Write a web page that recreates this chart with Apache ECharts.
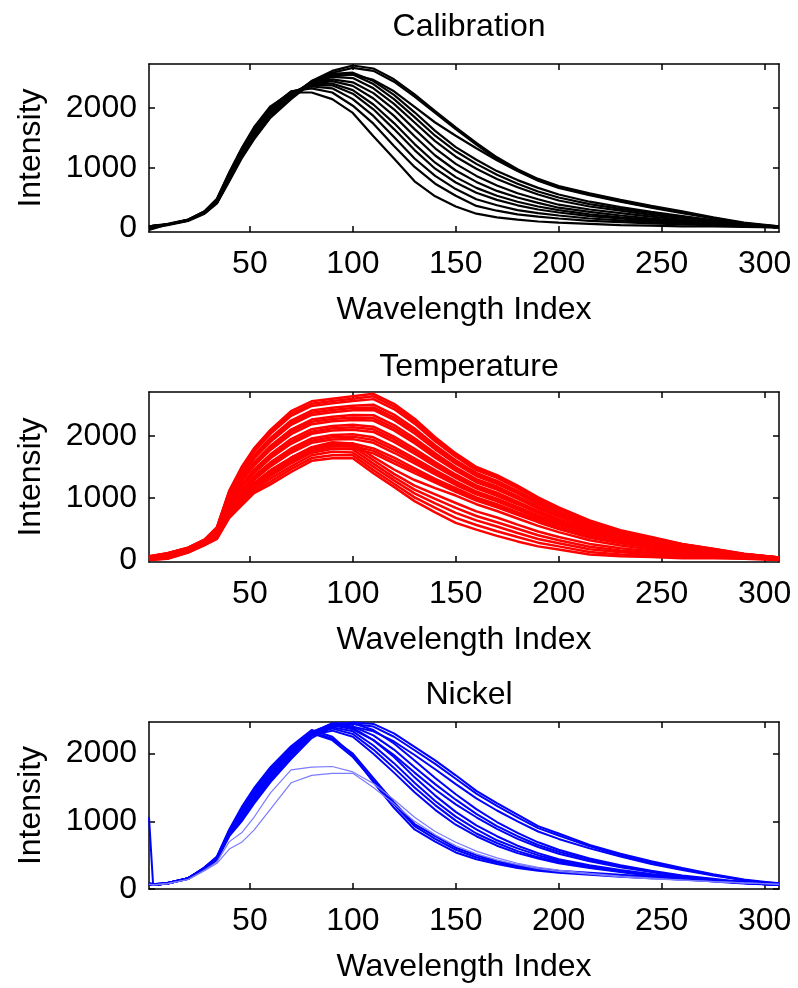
<!DOCTYPE html>
<html><head><meta charset="utf-8">
<script src="https://cdn.jsdelivr.net/npm/echarts@6.0.0/dist/echarts.min.js"></script>
<style>html,body{margin:0;padding:0;background:#fff}#chart{width:798px;height:988px}</style>
</head><body><div id="chart"></div>
<script>
// ---------- tick labels ----------
const xTickValues = [50, 100, 150, 200, 250, 300];
const yTickValues = [0, 1000, 2000];

// ---------- Calibration ----------
const xCal = [1, 10, 20, 28, 34, 40, 46, 52, 60, 70, 80, 90, 100, 110, 120, 130, 140, 150, 160, 170, 180, 190, 200, 215, 230, 245, 260, 275, 290, 307];
const calT1 = [30, 60, 130, 250, 420, 800, 1180, 1500, 1850, 2170, 2450, 2620, 2710, 2660, 2480, 2230, 1950, 1680, 1420, 1180, 980, 820, 700, 580, 470, 370, 280, 180, 90, 30];
const calT2 = [0, 50, 120, 240, 410, 780, 1160, 1480, 1840, 2150, 2420, 2590, 2670, 2620, 2440, 2190, 1920, 1650, 1390, 1150, 960, 800, 680, 560, 450, 350, 260, 170, 80, 20];
const calT3 = [30, 60, 130, 250, 430, 820, 1200, 1520, 1870, 2180, 2400, 2530, 2560, 2470, 2280, 2020, 1760, 1540, 1330, 1130, 950, 790, 670, 550, 440, 340, 250, 160, 80, 20];
const calM1 = [20, 60, 130, 260, 440, 850, 1230, 1550, 1900, 2200, 2450, 2570, 2590, 2450, 2220, 1930, 1620, 1350, 1140, 950, 800, 670, 560, 440, 350, 270, 200, 130, 70, 20];
const calM2 = [-30, 60, 140, 260, 450, 860, 1240, 1560, 1900, 2200, 2440, 2550, 2560, 2400, 2150, 1850, 1540, 1280, 1070, 890, 740, 610, 510, 400, 320, 250, 190, 130, 70, 30];
const calM3 = [20, 60, 130, 250, 440, 860, 1250, 1570, 1920, 2220, 2430, 2520, 2500, 2330, 2070, 1760, 1450, 1190, 990, 820, 680, 560, 460, 360, 290, 220, 170, 120, 60, 20];
const calM4 = [30, 60, 130, 260, 450, 870, 1260, 1580, 1930, 2230, 2420, 2480, 2430, 2250, 1980, 1650, 1330, 1070, 870, 710, 580, 480, 390, 310, 250, 190, 140, 100, 60, 20];
const calM5 = [20, 60, 140, 270, 460, 880, 1270, 1600, 1950, 2240, 2400, 2450, 2370, 2160, 1870, 1530, 1210, 960, 770, 620, 510, 420, 340, 270, 210, 160, 120, 90, 50, 20];
const calM6 = [30, 60, 130, 260, 460, 890, 1280, 1610, 1960, 2250, 2390, 2410, 2300, 2060, 1750, 1400, 1090, 850, 670, 540, 440, 360, 300, 230, 180, 140, 110, 80, 50, 20];
const calL1 = [30, 70, 140, 270, 470, 900, 1290, 1620, 1970, 2260, 2380, 2380, 2240, 1980, 1650, 1300, 990, 760, 590, 470, 380, 310, 260, 200, 160, 120, 100, 70, 40, 20];
const calL2 = [20, 60, 140, 270, 470, 910, 1300, 1640, 1990, 2270, 2360, 2330, 2150, 1870, 1520, 1160, 870, 650, 480, 380, 300, 250, 210, 160, 130, 100, 80, 60, 40, 10];
const calL3 = [30, 60, 140, 280, 480, 920, 1320, 1660, 2010, 2280, 2330, 2260, 2040, 1740, 1370, 1020, 740, 540, 370, 290, 230, 190, 160, 120, 100, 80, 60, 50, 30, 10];
const calL4 = [20, 60, 140, 280, 490, 930, 1330, 1680, 2030, 2260, 2260, 2150, 1920, 1530, 1160, 780, 530, 360, 240, 180, 140, 110, 90, 70, 50, 40, 30, 30, 20, 10];

// ---------- Temperature ----------
const xTemp = [1, 10, 20, 28, 34, 40, 46, 52, 60, 70, 80, 90, 100, 110, 120, 130, 140, 150, 160, 170, 180, 190, 200, 215, 230, 245, 260, 275, 290, 307];
const tempU1 = [60, 110, 200, 330, 530, 1120, 1500, 1800, 2100, 2400, 2560, 2600, 2640, 2680, 2520, 2280, 1980, 1720, 1500, 1370, 1200, 1010, 850, 640, 480, 370, 260, 180, 100, 40];
const tempU1b = [58, 108, 198, 328, 520, 1105, 1480, 1770, 2070, 2360, 2520, 2565, 2600, 2640, 2480, 2240, 1950, 1690, 1475, 1350, 1180, 990, 835, 630, 470, 360, 255, 178, 98, 40];
const tempU2 = [55, 105, 195, 325, 515, 1090, 1455, 1745, 2035, 2325, 2485, 2530, 2565, 2595, 2435, 2200, 1915, 1665, 1450, 1325, 1160, 975, 820, 615, 460, 355, 250, 175, 95, 40];
const tempU3 = [50, 95, 190, 315, 505, 1055, 1405, 1690, 1970, 2250, 2410, 2455, 2490, 2505, 2345, 2120, 1850, 1610, 1405, 1275, 1115, 940, 785, 590, 440, 340, 240, 165, 95, 40];
const tempU3b = [48, 92, 188, 312, 498, 1040, 1380, 1660, 1940, 2215, 2375, 2420, 2450, 2460, 2300, 2080, 1820, 1580, 1380, 1250, 1095, 920, 770, 580, 430, 330, 235, 162, 92, 38];
const tempU4 = [45, 90, 185, 310, 490, 1020, 1360, 1635, 1905, 2180, 2340, 2385, 2415, 2420, 2260, 2040, 1785, 1555, 1355, 1230, 1075, 900, 755, 565, 425, 325, 230, 160, 90, 35];
const tempU5 = [40, 85, 180, 305, 475, 990, 1315, 1575, 1840, 2105, 2265, 2310, 2340, 2335, 2175, 1965, 1720, 1495, 1305, 1185, 1030, 865, 725, 540, 405, 310, 215, 155, 90, 35];
const tempU5b = [40, 82, 178, 302, 470, 975, 1290, 1550, 1810, 2070, 2230, 2275, 2300, 2290, 2130, 1925, 1685, 1470, 1280, 1160, 1010, 848, 710, 528, 395, 302, 210, 152, 88, 35];
const tempU6 = [40, 80, 175, 300, 465, 960, 1265, 1520, 1775, 2030, 2190, 2240, 2260, 2250, 2090, 1885, 1650, 1440, 1255, 1135, 990, 830, 695, 515, 385, 295, 205, 150, 85, 35];
const tempU7 = [35, 70, 165, 290, 450, 920, 1215, 1460, 1705, 1950, 2110, 2160, 2180, 2150, 1990, 1795, 1580, 1380, 1205, 1085, 940, 790, 660, 485, 365, 275, 195, 140, 85, 35];
const tempU7b = [32, 68, 162, 288, 442, 905, 1190, 1430, 1670, 1910, 2070, 2125, 2140, 2108, 1948, 1755, 1548, 1352, 1180, 1060, 920, 772, 642, 472, 355, 268, 190, 138, 82, 35];
const tempU8 = [30, 65, 160, 285, 435, 890, 1170, 1400, 1640, 1875, 2035, 2090, 2100, 2065, 1905, 1715, 1515, 1325, 1155, 1035, 900, 755, 625, 460, 345, 260, 185, 135, 80, 35];
const tempU9 = [25, 60, 155, 280, 420, 860, 1120, 1350, 1575, 1800, 1960, 2015, 2030, 1980, 1820, 1640, 1450, 1270, 1105, 990, 855, 720, 595, 435, 325, 245, 170, 130, 80, 35];
const tempU9b = [22, 58, 152, 278, 412, 842, 1098, 1320, 1542, 1765, 1925, 1980, 1990, 1935, 1775, 1600, 1415, 1240, 1082, 968, 835, 700, 580, 422, 318, 238, 165, 128, 78, 32];
const tempU10 = [20, 55, 150, 275, 405, 825, 1075, 1290, 1510, 1730, 1890, 1945, 1950, 1890, 1730, 1560, 1380, 1210, 1060, 945, 815, 680, 565, 410, 310, 230, 160, 125, 75, 30];
const tempU11 = [20, 45, 145, 265, 395, 790, 1030, 1240, 1450, 1650, 1810, 1870, 1880, 1800, 1650, 1480, 1310, 1160, 1010, 900, 770, 650, 530, 390, 290, 210, 150, 120, 70, 30];
const tempU11b = [15, 42, 142, 262, 388, 775, 1005, 1210, 1415, 1615, 1775, 1835, 1840, 1760, 1605, 1440, 1280, 1130, 985, 875, 750, 630, 515, 375, 280, 205, 145, 115, 70, 30];
const tempU12 = [10, 40, 140, 260, 380, 760, 980, 1180, 1380, 1580, 1740, 1800, 1800, 1720, 1560, 1400, 1250, 1100, 960, 850, 730, 610, 500, 360, 270, 200, 140, 110, 70, 30];
const tempW1 = [20, 50, 140, 270, 400, 800, 1040, 1240, 1440, 1650, 1820, 1900, 1880, 1660, 1460, 1290, 1160, 1040, 900, 790, 670, 550, 450, 320, 235, 170, 115, 95, 60, 20];
const tempW2 = [15, 45, 135, 265, 390, 775, 1010, 1210, 1395, 1605, 1775, 1850, 1830, 1610, 1390, 1200, 1060, 920, 785, 685, 570, 460, 370, 260, 190, 140, 95, 80, 50, 15];
const tempW3 = [10, 40, 130, 260, 375, 750, 975, 1175, 1350, 1560, 1730, 1795, 1785, 1555, 1335, 1135, 985, 840, 710, 610, 505, 400, 320, 215, 155, 115, 80, 65, 45, 10];
const tempW4 = [10, 30, 130, 250, 365, 730, 945, 1145, 1310, 1510, 1690, 1745, 1735, 1505, 1285, 1075, 915, 760, 640, 540, 435, 340, 270, 175, 125, 95, 60, 55, 35, 10];
const tempW5 = [5, 25, 125, 245, 350, 705, 910, 1110, 1265, 1465, 1645, 1690, 1690, 1450, 1230, 1010, 840, 680, 565, 465, 370, 280, 220, 130, 90, 70, 45, 40, 30, 5];
const tempW6 = [0, 20, 120, 240, 340, 680, 880, 1080, 1220, 1420, 1600, 1640, 1640, 1400, 1180, 950, 770, 600, 490, 390, 300, 220, 170, 90, 60, 50, 30, 30, 20, 0];

// ---------- Nickel ----------
const xNi = [1, 3, 10, 20, 28, 34, 40, 46, 52, 60, 70, 80, 90, 100, 110, 120, 130, 140, 150, 160, 170, 180, 190, 200, 215, 230, 245, 260, 275, 290, 307];
const niN1 = [80, 70, 90, 150, 290, 430, 780, 1000, 1260, 1580, 1920, 2230, 2400, 2460, 2440, 2300, 2100, 1900, 1680, 1450, 1270, 1100, 930, 820, 650, 520, 410, 310, 220, 140, 80];
const niN2 = [70, 60, 80, 160, 300, 440, 800, 1030, 1290, 1610, 1950, 2260, 2420, 2440, 2400, 2250, 2050, 1850, 1630, 1410, 1230, 1060, 900, 790, 630, 500, 390, 300, 210, 130, 70];
const niN3 = [90, 70, 90, 160, 300, 450, 810, 1050, 1320, 1640, 1980, 2290, 2430, 2400, 2330, 2180, 1980, 1770, 1550, 1340, 1160, 1000, 850, 740, 600, 480, 370, 280, 200, 130, 70];
const niN4 = [70, 60, 80, 150, 310, 450, 820, 1080, 1350, 1670, 2010, 2310, 2450, 2450, 2350, 2150, 1900, 1640, 1400, 1180, 990, 830, 690, 580, 450, 350, 270, 200, 150, 100, 60];
const niN5 = [1060, 60, 80, 160, 310, 460, 830, 1100, 1370, 1690, 2030, 2320, 2440, 2400, 2270, 2060, 1800, 1550, 1320, 1110, 930, 780, 650, 550, 430, 340, 260, 190, 140, 90, 60];
const niN6 = [80, 70, 90, 160, 300, 450, 830, 1110, 1390, 1700, 2040, 2300, 2420, 2360, 2200, 1980, 1720, 1470, 1250, 1060, 890, 740, 620, 520, 410, 320, 250, 180, 130, 90, 60];
const niN7 = [70, 60, 80, 150, 310, 460, 840, 1120, 1400, 1720, 2050, 2310, 2420, 2380, 2200, 1950, 1650, 1380, 1140, 940, 780, 640, 530, 440, 350, 280, 220, 170, 130, 100, 70];
const niN8 = [80, 60, 90, 160, 300, 460, 850, 1130, 1420, 1730, 2060, 2300, 2390, 2330, 2120, 1860, 1570, 1300, 1070, 880, 720, 600, 500, 420, 340, 270, 210, 160, 120, 90, 60];
const niN9 = [70, 60, 80, 150, 300, 450, 840, 1150, 1430, 1740, 2070, 2290, 2370, 2290, 2060, 1790, 1500, 1240, 1010, 820, 680, 560, 470, 400, 320, 260, 200, 150, 120, 90, 60];
const niN10 = [80, 60, 90, 160, 310, 460, 850, 1160, 1440, 1760, 2080, 2280, 2340, 2250, 2000, 1720, 1430, 1170, 950, 780, 640, 530, 450, 380, 310, 250, 190, 150, 110, 80, 60];
const niN11 = [70, 60, 80, 150, 320, 470, 870, 1190, 1470, 1780, 2090, 2300, 2200, 1950, 1600, 1250, 930, 740, 580, 470, 390, 330, 290, 260, 230, 200, 170, 140, 120, 100, 80];
const niN12 = [80, 60, 90, 160, 320, 480, 880, 1210, 1490, 1800, 2110, 2350, 2250, 1980, 1580, 1200, 880, 700, 540, 440, 370, 310, 270, 240, 210, 180, 160, 140, 120, 100, 80];
const niN13 = [70, 60, 80, 150, 310, 470, 860, 1180, 1460, 1770, 2080, 2320, 2220, 2000, 1640, 1280, 960, 780, 610, 500, 410, 350, 300, 270, 240, 210, 180, 150, 130, 110, 90];
const niThinA = [70, 60, 80, 140, 280, 400, 700, 830, 1060, 1420, 1760, 1800, 1810, 1730, 1560, 1320, 1060, 850, 690, 560, 460, 380, 320, 280, 230, 190, 160, 130, 110, 90, 70];
const niThinB = [70, 60, 80, 140, 270, 380, 590, 690, 870, 1180, 1570, 1680, 1710, 1710, 1500, 1260, 1000, 800, 640, 520, 430, 360, 300, 260, 220, 180, 150, 130, 110, 90, 70];

// ---------- build ----------
const FONT = 'Liberation Sans, Arial, sans-serif';
const panels = [
  { title: 'Calibration', titleTop: 6, top: 64, height: 168, ymin: -65, ymax: 2735, xs: xCal,
    curves: [calT1, calT2, calT3, calM1, calM2, calM3, calM4, calM5, calM6, calL1, calL2, calL3, calL4].map(v => ({ v, color: '#000000', w: 2.2 })) },
  { title: 'Temperature', titleTop: 346, top: 392, height: 170, ymin: -32, ymax: 2710, xs: xTemp,
    curves: [tempW6, tempW5, tempW4, tempW3, tempW2, tempW1, tempU12, tempU11b, tempU11, tempU10, tempU9b, tempU9, tempU8, tempU7b, tempU7, tempU6, tempU5b, tempU5, tempU4, tempU3b, tempU3, tempU2, tempU1b, tempU1].map(v => ({ v, color: '#ff0000', w: 2.5 })) },
  { title: 'Nickel', titleTop: 674, top: 722, height: 167, ymin: 0, ymax: 2468, xs: xNi,
    curves: [niN1, niN2, niN3, niN4, niN5, niN6, niN7, niN8, niN9, niN10, niN11, niN12, niN13].map(v => ({ v, color: '#0000ff', w: 2 }))
      .concat([niThinA, niThinB].map(v => ({ v, color: '#7b7bff', w: 1.2 }))) }
];

const grids = [], xAxes = [], yAxes = [], series = [], titles = [];
const axisLineStyle = { color: '#000', width: 1.5 };
const plainNum = v => String(v);
panels.forEach((p, gi) => {
  grids.push({ left: 149, top: p.top, width: 630, height: p.height });
  titles.push({ text: p.title, left: 464, top: p.titleTop, textAlign: 'center',
    textStyle: { fontFamily: FONT, fontSize: 32, fontWeight: 'normal', color: '#000' } });
  const common = { type: 'value', gridIndex: gi, min: 1, max: 307, splitLine: { show: false },
    axisLine: { show: true, onZero: false, lineStyle: axisLineStyle },
    axisTick: { show: true, inside: true, length: 6, customValues: xTickValues, lineStyle: axisLineStyle } };
  xAxes.push(Object.assign({}, common, { position: 'bottom',
    axisLabel: { show: true, customValues: xTickValues, formatter: plainNum, fontFamily: FONT, fontSize: 32, color: '#000', margin: 16 },
    name: 'Wavelength Index', nameLocation: 'middle', nameGap: 62,
    nameTextStyle: { fontFamily: FONT, fontSize: 32, color: '#000' } }));
  xAxes.push(Object.assign({}, common, { position: 'top', axisLabel: { show: false } }));
  const ycommon = { type: 'value', gridIndex: gi, min: p.ymin, max: p.ymax, splitLine: { show: false },
    axisLine: { show: true, onZero: false, lineStyle: axisLineStyle },
    axisTick: { show: true, inside: true, length: 6, customValues: yTickValues, lineStyle: axisLineStyle } };
  yAxes.push(Object.assign({}, ycommon, { position: 'left',
    axisLabel: { show: true, customValues: yTickValues, formatter: plainNum, fontFamily: FONT, fontSize: 32, color: '#000', margin: 12 },
    name: 'Intensity', nameLocation: 'middle', nameGap: 102,
    nameTextStyle: { fontFamily: FONT, fontSize: 32, color: '#000' } }));
  yAxes.push(Object.assign({}, ycommon, { position: 'right', axisLabel: { show: false } }));
  p.curves.forEach(c => {
    series.push({ type: 'line', xAxisIndex: 2 * gi, yAxisIndex: 2 * gi, showSymbol: false, silent: true,
      animation: false, lineStyle: { color: c.color, width: c.w }, itemStyle: { color: c.color },
      data: p.xs.map((x, i) => [x, c.v[i]]) });
  });
});

const chart = echarts.init(document.getElementById('chart'), null, { renderer: 'canvas' });
chart.setOption({ animation: false, backgroundColor: '#fff', title: titles, grid: grids, xAxis: xAxes, yAxis: yAxes, series: series });
</script></body></html>
